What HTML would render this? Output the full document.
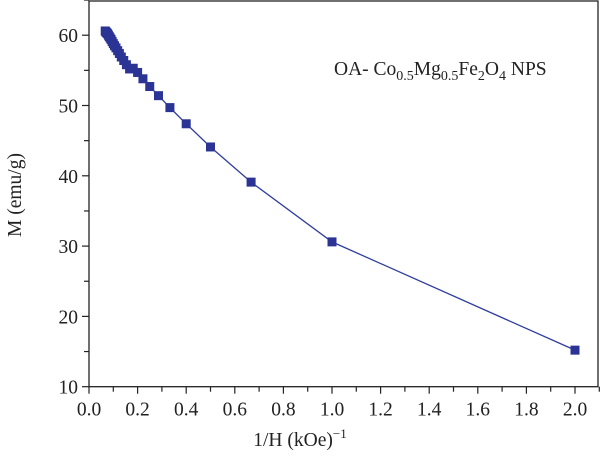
<!DOCTYPE html>
<html><head><meta charset="utf-8"><style>
html,body{margin:0;padding:0;background:#fff;}
svg text{font-family:"Liberation Serif",serif;fill:#222;}
</style></head><body>
<svg width="600" height="469" xmlns="http://www.w3.org/2000/svg">
<g id="axes"></g>
<g id="series"></g>
<text x="334" y="75" font-size="19.5">OA- Co<tspan font-size="14" dy="5">0.5</tspan><tspan dy="-5">Mg</tspan><tspan font-size="14" dy="5">0.5</tspan><tspan dy="-5">Fe</tspan><tspan font-size="14" dy="5">2</tspan><tspan dy="-5">O</tspan><tspan font-size="14" dy="5">4</tspan><tspan dy="-5"> NPS</tspan></text>
<text x="300" y="446" font-size="19.5" text-anchor="middle">1/H (kOe)<tspan font-size="13" dy="-8">−1</tspan></text>
<text transform="translate(21,195) rotate(-90)" font-size="19.5" text-anchor="middle">M (emu/g)</text>
</svg>
<script>
const xValues=[0.0667,0.0690,0.0714,0.0741,0.0769,0.0800,0.0833,0.0870,0.0909,0.0952,0.1,0.105,0.111,0.118,0.125,0.133,0.143,0.154,0.167,0.182,0.2,0.222,0.25,0.286,0.333,0.4,0.5,0.667,1.0,2.0];
const mValues=[60.6,60.5,60.4,60.3,60.2,60.0,59.8,59.6,59.4,59.1,58.8,58.5,58.2,57.8,57.4,56.9,56.4,55.8,55.2,55.3,54.7,53.8,52.7,51.4,49.7,47.4,44.1,39.1,30.6,15.2];
const xTicks=["0.0","0.2","0.4","0.6","0.8","1.0","1.2","1.4","1.6","1.8","2.0"];
const yTicks=["10","20","30","40","50","60"];
const X0=89,PX=243,Y0=386.7,PY=7.03;
const sx=v=>X0+v*PX, sy=v=>Y0-(v-10)*PY;
const NS="http://www.w3.org/2000/svg";
const ax=document.getElementById('axes'), se=document.getElementById('series');
function mk(tag,attrs,parent){const e=document.createElementNS(NS,tag);for(const k in attrs)e.setAttribute(k,attrs[k]);parent.appendChild(e);return e;}
const frame=mk('rect',{x:X0,y:1,width:598-X0,height:Y0-1,fill:'none',stroke:'#222','stroke-width':1.3},ax);


for(let i=0;i<=21;i++){const v=i*0.1,x=sx(v);const maj=i%2===0;
 const t=mk('line',{x1:x,x2:x,y1:Y0,y2:Y0+(maj?7:5),stroke:'#222','stroke-width':1.2},ax);
 
 
 if(maj&&i/2<xTicks.length){const tx=mk('text',{x:x,y:Y0+29,'font-size':19.5,'text-anchor':'middle'},ax);tx.textContent=xTicks[i/2];
 
 }}
for(let v=10;v<=65;v+=5){const y=sy(v);const maj=v%10===0;
 const t=mk('line',{x1:X0,x2:X0-(maj?7:5),y1:y,y2:y,stroke:'#222','stroke-width':1.2},ax);
 
 
 if(maj){const tx=mk('text',{x:X0-11,y:y+7,'font-size':19.5,'text-anchor':'end'},ax);tx.textContent=yTicks[(v-10)/10];
 
 }}
const pl=mk('polyline',{points:xValues.map((v,i)=>sx(v)+','+sy(mValues[i])).join(' '),fill:'none',stroke:'#2f3d9e','stroke-width':1.3},se);


xValues.forEach((v,i)=>{const r=mk('rect',{x:sx(v)-4.5,y:sy(mValues[i])-4.5,width:9,height:9,fill:'#2b3494'},se);
 
 });
</script>
</body></html>
